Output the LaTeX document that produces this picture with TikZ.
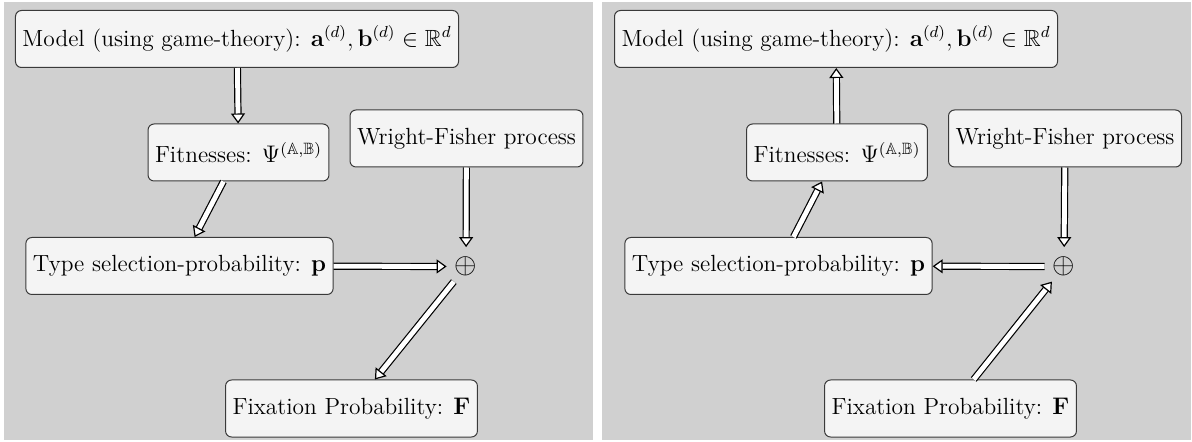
\documentclass[tikz,border=0pt]{standalone}
\usepackage{amsmath,amssymb}
\usetikzlibrary{arrows.meta}
\definecolor{panelgray}{HTML}{D0D0D0}
\definecolor{boxfill}{HTML}{F4F4F4}
\definecolor{boxline}{HTML}{3A3A3A}
\tikzset{
  box/.style={draw=boxline, fill=boxfill, rounded corners=3pt, line width=0.5pt,
    minimum height=28.5pt, inner xsep=3.5pt, font=\fontsize{11.7}{14}\selectfont},
  sumnode/.style={circle, minimum size=19pt, inner sep=0pt, font=\fontsize{15}{18}\selectfont},
  dbl/.style={double=white, draw=black, double distance=2.4pt, line width=0.6pt,
    -{Triangle[open, fill=white, length=5pt, width=7pt]}},
}
\begin{document}
\begin{tikzpicture}[x=0.5pt,y=-0.5pt]
\useasboundingbox (0,0) rectangle (1192,442);
\fill[panelgray] (4,2) rectangle (593,440);
\fill[panelgray] (602,2) rectangle (1191,440);
% left panel
\node[box] (modelL) at (237,39) {Model (using game-theory): $\mathbf{a}^{(d)},\mathbf{b}^{(d)}\in\mathbb{R}^d$};
\node[box] (fitL) at (238.5,152.5) {Fitnesses: $\Psi^{(\mathbb{A},\mathbb{B})}$};
\node[box] (wfL) at (466.5,138.5) {Wright-Fisher process};
\node[box] (typeL) at (179.5,266) {Type selection-probability: $\mathbf{p}$};
\node[sumnode] (sumL) at (466,266.5) {$\oplus$};
\node[box] (fixL) at (351.5,408.5) {Fixation Probability: $\mathbf{F}$};
\draw[dbl] (modelL) -- (fitL);
\draw[dbl] (fitL) -- (typeL);
\draw[dbl] (wfL) -- (sumL);
\draw[dbl] (typeL) -- (sumL);
\draw[dbl] (sumL) -- (fixL);
% right panel
\node[box] (modelR) at (836,39) {Model (using game-theory): $\mathbf{a}^{(d)},\mathbf{b}^{(d)}\in\mathbb{R}^d$};
\node[box] (fitR) at (837,152.5) {Fitnesses: $\Psi^{(\mathbb{A},\mathbb{B})}$};
\node[box] (wfR) at (1065,138.5) {Wright-Fisher process};
\node[box] (typeR) at (778.5,266) {Type selection-probability: $\mathbf{p}$};
\node[sumnode] (sumR) at (1064,266.5) {$\oplus$};
\node[box] (fixR) at (950.5,408.5) {Fixation Probability: $\mathbf{F}$};
\draw[dbl] (fitR) -- (modelR);
\draw[dbl] (typeR) -- (fitR);
\draw[dbl] (wfR) -- (sumR);
\draw[dbl] (sumR) -- (typeR);
\draw[dbl] (fixR) -- (sumR);
\end{tikzpicture}
\end{document}
